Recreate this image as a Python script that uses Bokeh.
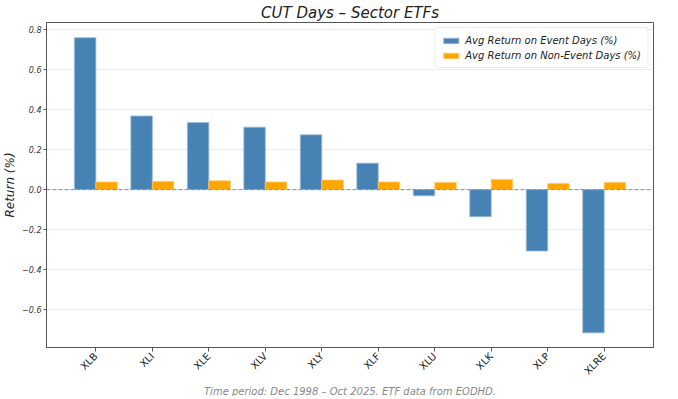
import math
from bokeh.plotting import figure
from bokeh.models import (Range1d, FixedTicker, CustomJSTickFormatter, Span, Title,
                          ColumnDataSource, Legend, LegendItem)
from bokeh.transform import dodge
from bokeh.embed import file_html
from bokeh.resources import INLINE

tickers = ["XLB", "XLI", "XLE", "XLV", "XLY", "XLF", "XLU", "XLK", "XLP", "XLRE"]
event_returns = [0.757, 0.367, 0.334, 0.311, 0.273, 0.132, -0.031, -0.135, -0.306, -0.714]
non_event_returns = [0.038, 0.041, 0.044, 0.038, 0.048, 0.038, 0.036, 0.051, 0.031, 0.036]
y_ticks = [-0.6, -0.4, -0.2, 0.0, 0.2, 0.4, 0.6, 0.8]

FONT = "DejaVu Sans"
BAR_W = 0.38

src = ColumnDataSource(dict(idx=list(range(len(tickers))), ev=event_returns, ne=non_event_returns))

p = figure(frame_width=607, frame_height=325, output_backend="svg", toolbar_location=None,
           x_range=Range1d(-0.874, 9.873), y_range=Range1d(-0.787, 0.833),
           min_border_left=0, min_border_right=14, min_border_top=0, min_border_bottom=0)
p.background_fill_color = "white"
p.border_fill_color = "white"
p.outline_line_color = "#555555"
p.outline_line_width = 1

p.title.text = "CUT Days \u2013 Sector ETFs"
p.title.text_font = FONT
p.title.text_font_size = "15px"
p.title.text_font_style = "italic"
p.title.text_color = "#222222"
p.title.align = "center"
p.title.standoff = 2

r1 = p.vbar(x=dodge("idx", -BAR_W / 2, range=p.x_range), top="ev", bottom=0, width=BAR_W, source=src,
            fill_color="#4682B4", line_color="#9bbbd8", line_width=0.8)
r2 = p.vbar(x=dodge("idx", BAR_W / 2, range=p.x_range), top="ne", bottom=0, width=BAR_W, source=src,
            fill_color="#FFA500", line_color="#ffc966", line_width=0.8)

p.add_layout(Span(location=0, dimension="width", line_color="#5b9bd5", line_dash="4 2", line_width=1))

# axes
p.xaxis.ticker = FixedTicker(ticks=list(range(len(tickers))))
p.xaxis.major_label_overrides = {i: t for i, t in enumerate(tickers)}
p.xaxis.major_label_orientation = math.pi / 4
p.xaxis.major_label_text_font = FONT
p.xaxis.major_label_text_font_size = "10px"
p.xaxis.major_label_text_color = "#222222"
p.xaxis.minor_tick_line_color = None
p.xaxis.major_tick_out = 4
p.xaxis.major_tick_in = 0
p.xaxis.major_label_standoff = 3
p.xaxis.axis_line_color = "#555555"
p.xaxis.major_tick_line_color = "#555555"

p.yaxis.ticker = FixedTicker(ticks=y_ticks)
p.yaxis.formatter = CustomJSTickFormatter(code="return (tick < -1e-9 ? '\\u2212' : '') + Math.abs(tick).toFixed(1);")
p.yaxis.major_label_text_font = FONT
p.yaxis.major_label_text_font_size = "8px"
p.yaxis.major_label_text_font_style = "italic"
p.yaxis.major_label_text_color = "#333333"
p.yaxis.minor_tick_line_color = None
p.yaxis.major_tick_out = 3
p.yaxis.major_tick_in = 0
p.yaxis.axis_line_color = "#555555"
p.yaxis.major_tick_line_color = "#555555"
p.yaxis.axis_label = "Return (%)"
p.yaxis.axis_label_text_font = FONT
p.yaxis.axis_label_text_font_size = "12px"
p.yaxis.axis_label_text_font_style = "italic"
p.yaxis.axis_label_text_color = "#222222"
p.yaxis.axis_label_standoff = 2
p.yaxis.major_label_standoff = 2

p.xgrid.grid_line_color = None
p.ygrid.grid_line_color = "#ebebeb"
p.ygrid.ticker = FixedTicker(ticks=y_ticks)

legend = Legend(items=[LegendItem(label="Avg Return on Event Days (%)", renderers=[r1]),
                       LegendItem(label="Avg Return on Non-Event Days (%)", renderers=[r2])],
                location="top_right")
legend.label_text_font = FONT
legend.label_text_font_size = "10px"
legend.label_text_font_style = "italic"
legend.label_text_color = "#222222"
legend.glyph_width = 19
legend.glyph_height = 7
legend.label_height = 12
legend.spacing = 3
legend.padding = 6
legend.margin = 5
legend.border_line_color = "#dddddd"
legend.border_radius = 3
legend.background_fill_alpha = 0.9
p.add_layout(legend)

foot = Title(text="Time period: Dec 1998 \u2013 Oct 2025. ETF data from EODHD.", align="center",
             text_font=FONT, text_font_size="10px", text_font_style="italic", text_color="#888888",
             standoff=0)
p.add_layout(foot, "below")

open("out.html", "w").write(file_html(p, INLINE))
